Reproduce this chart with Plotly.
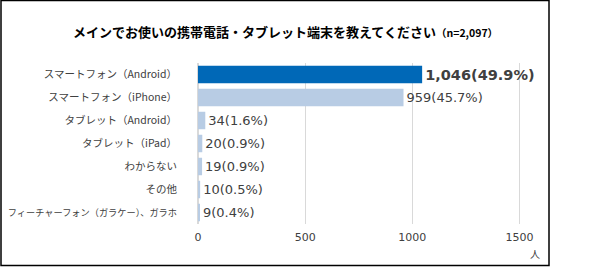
import plotly.graph_objects as go

categories = ["スマートフォン（Android）", "スマートフォン（iPhone）", "タブレット（Android）",
              "タブレット（iPad）", "わからない", "その他", "フィーチャーフォン（ガラケー）、ガラホ"]
values = [1046, 959, 34, 20, 19, 10, 9]
percents = [49.9, 45.7, 1.6, 0.9, 0.9, 0.5, 0.4]
tick_vals = [0, 500, 1000, 1500]
title_main = "メインでお使いの携帯電話・タブレット端末を教えてください"
title_n = "（n=2,097）"
unit_label = "人"

colors = ["#0068B7"] + ["#B8CCE4"] * (len(values) - 1)
texts = []
for i, (v, p) in enumerate(zip(values, percents)):
    t = f"{v:,}({p}%)"
    if i == 0:
        t = f"<b>{t}</b>"
    texts.append(t)
text_sizes = [14.5] + [13] * (len(values) - 1)

# category label sizing (longest label slightly smaller so it fits like the reference)
tick_text = [c if len(c) < 18 else f"<span style='font-size:9.2px'>{c}</span>" for c in categories]

FONT = "Noto Sans CJK JP"
NUMFONT = "DejaVu Sans"
L, R, T, B = 198, 72, 63, 43
W, H = 600, 267
pw, ph = W - L - R, H - T - B

def px(x):
    return (x - L) / pw

def py(y):
    return (H - B - y) / ph

fig = go.Figure(go.Bar(
    x=values, y=categories, orientation="h",
    marker=dict(color=colors, line=dict(width=0)),
    text=texts, textposition="outside", cliponaxis=False,
    textfont=dict(size=text_sizes, color="#404040", family=NUMFONT),
    width=0.76,
))

fig.update_layout(
    width=W, height=H,
    margin=dict(l=L, r=R, t=T, b=B, autoexpand=False),
    paper_bgcolor="white", plot_bgcolor="white",
    showlegend=False,
    font=dict(family=FONT, color="#404040"),
    xaxis=dict(range=[0, 1540], tickvals=tick_vals, showgrid=True, gridcolor="#D9D9D9",
               gridwidth=1, zeroline=True, zerolinecolor="#D9D9D9", showline=False,
               automargin=False, ticklabelstandoff=5,
               tickfont=dict(size=11, color="#404040", family=NUMFONT), ticks="", ticklen=0),
    yaxis=dict(autorange="reversed", showgrid=False, showline=False, ticks="",
               automargin=False, ticklabelstandoff=20,
               tickmode="array", tickvals=categories, ticktext=tick_text,
               tickfont=dict(size=10.5, color="#404040", family=FONT)),
    annotations=[
        dict(x=px(285), y=py(31), xref="paper", yref="paper", xanchor="center", yanchor="middle",
             showarrow=False,
             text=f"<b>{title_main}</b><span style='font-size:10.5px'><b>{title_n}</b></span>",
             font=dict(size=13, color="#000000", family=FONT)),
        dict(x=px(535), y=py(254), xref="paper", yref="paper", xanchor="center", yanchor="middle",
             showarrow=False, text=unit_label, font=dict(size=10, color="#404040", family=FONT)),
    ],
    shapes=[dict(type="rect", xref="paper", yref="paper",
                 x0=px(1), x1=px(549), y0=py(265.5), y1=py(0.5),
                 line=dict(color="#000000", width=1.5), fillcolor="rgba(0,0,0,0)", layer="above")],
)

fig.write_html("out.html")
